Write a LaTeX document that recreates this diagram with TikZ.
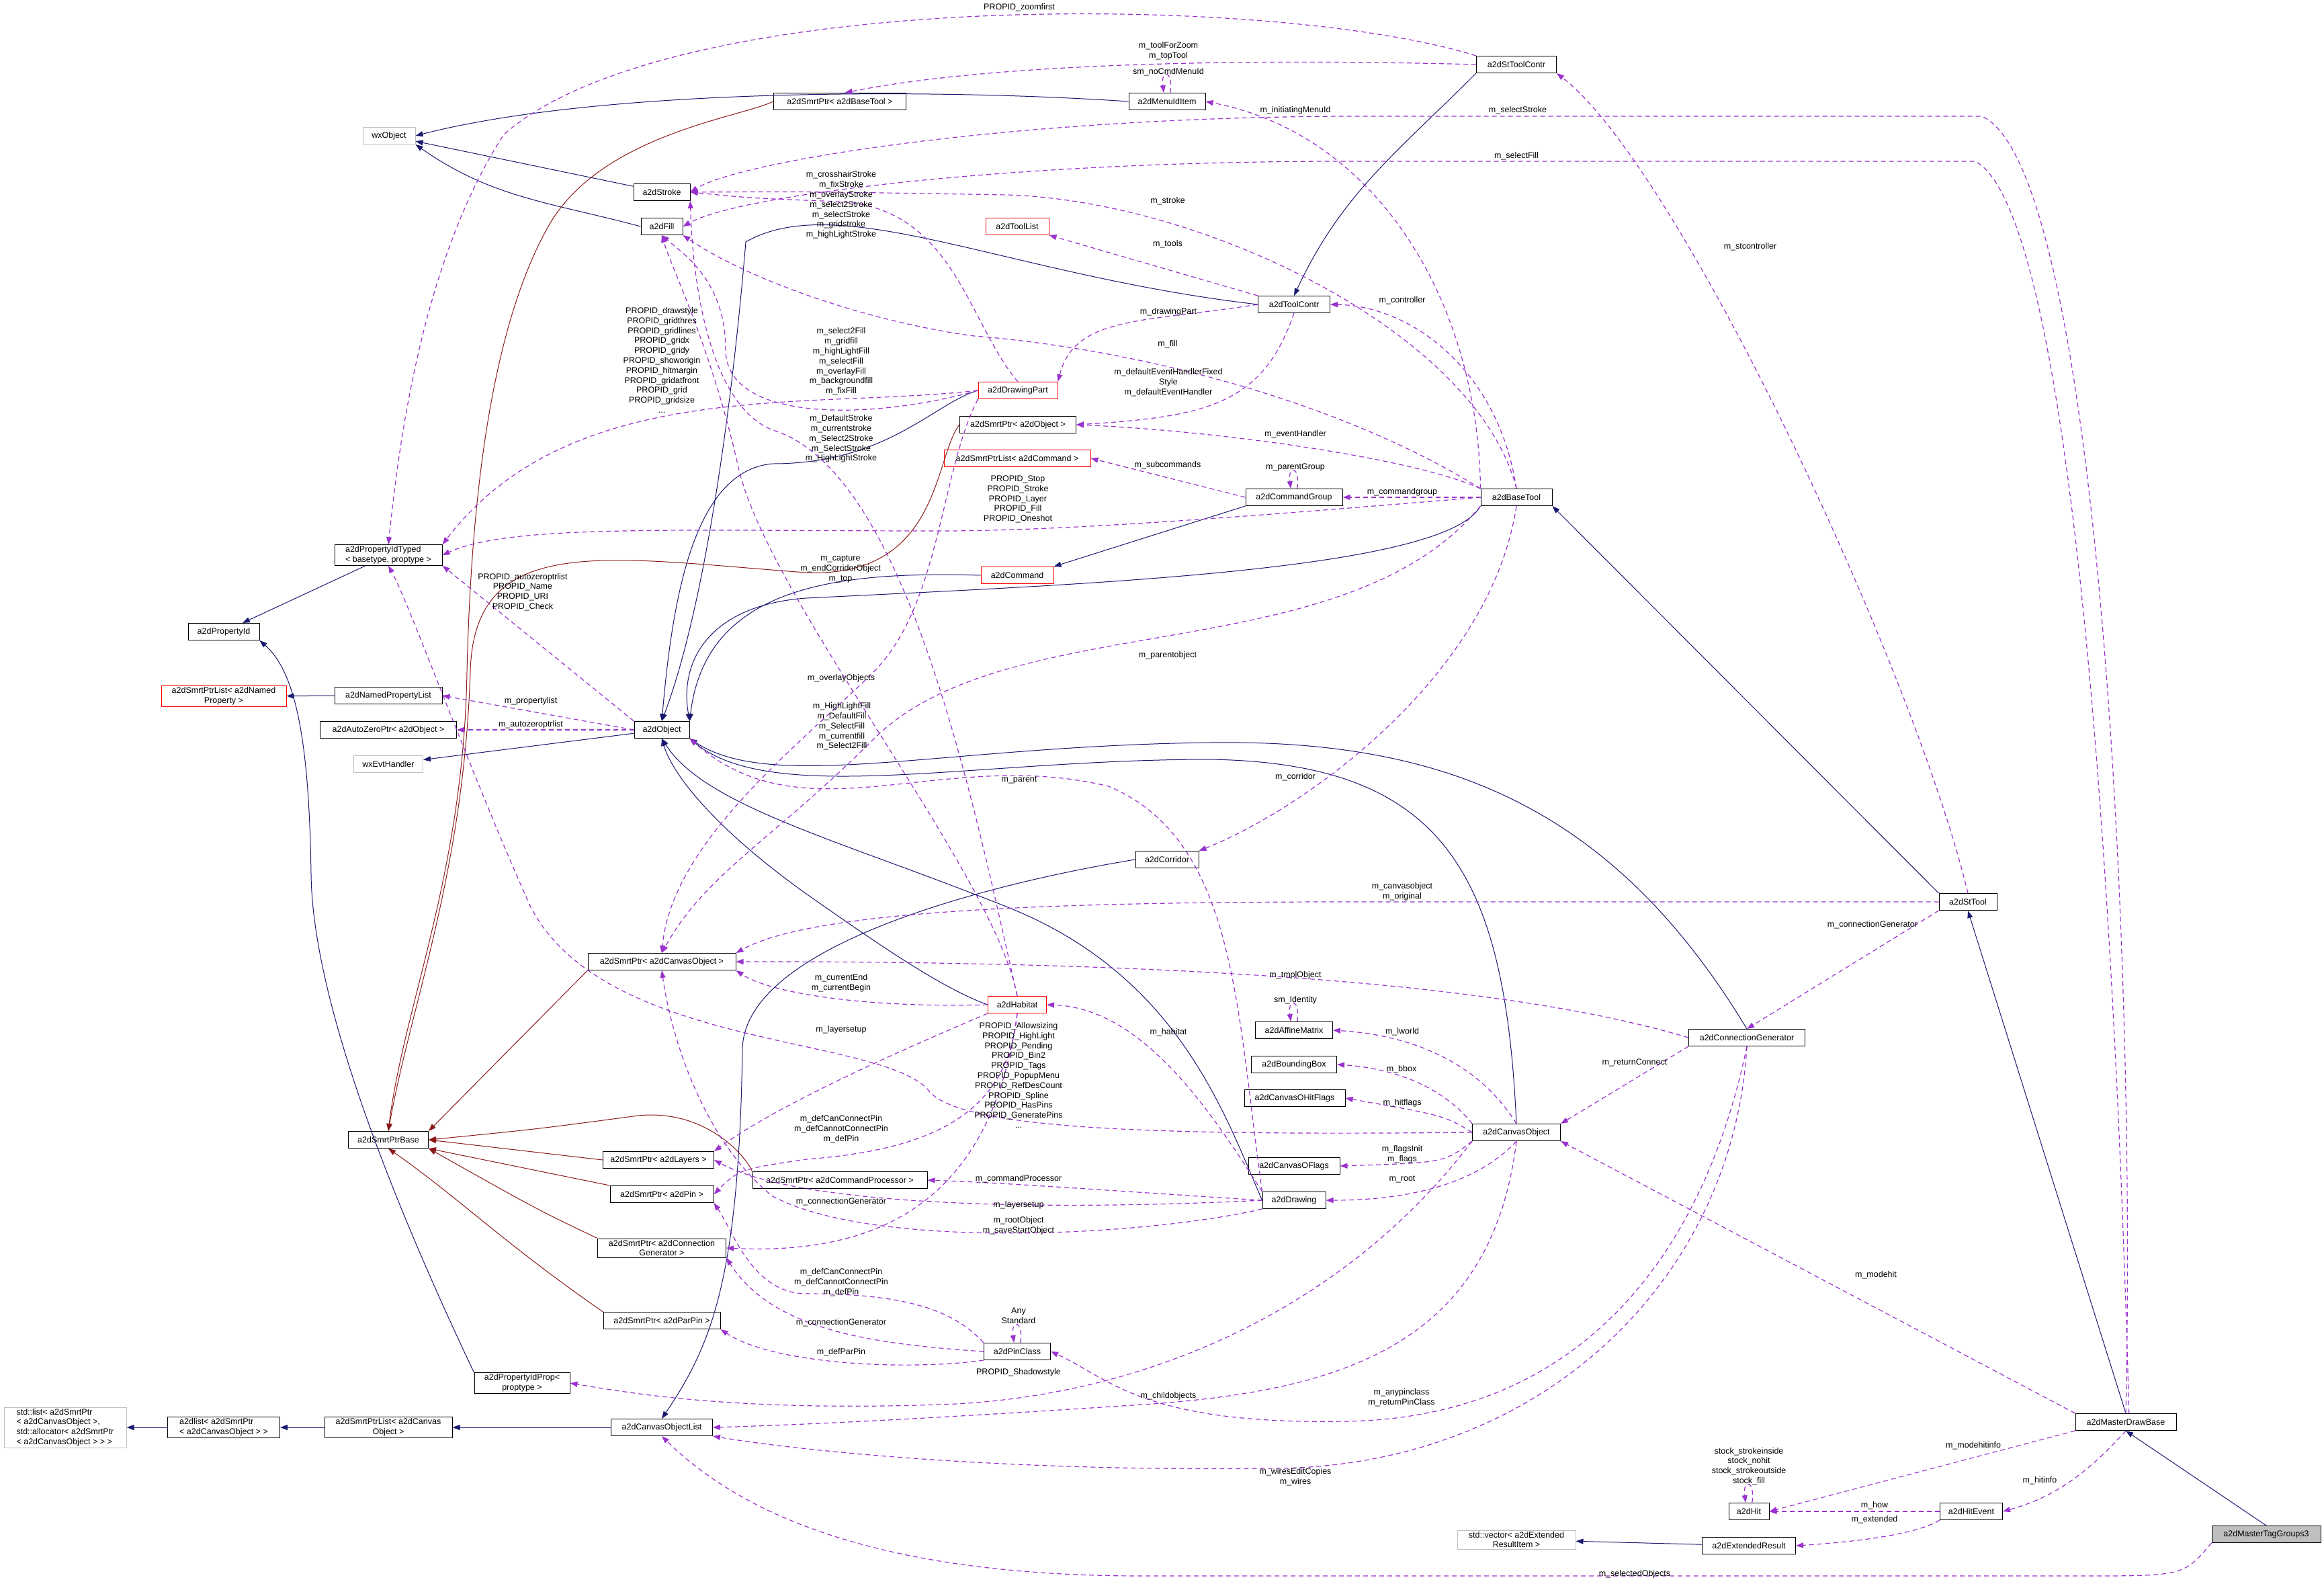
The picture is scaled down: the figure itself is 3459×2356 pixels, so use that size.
\documentclass[tikz,border=0pt]{standalone}
\usepackage{fontspec}
\setmainfont{Liberation Sans}
\usetikzlibrary{arrows.meta}
\definecolor{navy}{HTML}{191970}
\definecolor{darkred}{HTML}{8B1A1A}
\definecolor{orchid}{HTML}{9A32CD}
\definecolor{boxgray}{HTML}{BFBFBF}
\tikzset{
  cls/.style={draw=black, line width=1pt, inner sep=2pt, minimum height=25pt, align=center,
    font=\fontsize{12.5}{14.8}\selectfont},
  ext/.style={cls, draw=boxgray},
  redcls/.style={cls, draw=red},
  lbl/.style={inner sep=0pt, align=center, font=\fontsize{12.5}{14.8}\selectfont},
  isa/.style={navy, line width=1pt, -{Triangle[length=11pt,width=8pt]}},
  tmpl/.style={darkred, line width=1pt, -{Triangle[length=11pt,width=8pt]}},
  use/.style={orchid, line width=1.2pt, dash pattern=on 7pt off 5pt, -{Triangle[length=11pt,width=8pt]}}
}
\begin{document}
\begin{tikzpicture}[x=1pt, y=-1pt]
        \useasboundingbox (0, 0) rectangle (3459, 2356);
        % classes
        \node[ext, minimum width=78] (wxobj) at (579, 202) {wxObject};
        \node[cls, minimum width=197] (ptrbasetool) at (1250, 151) {a2dSmrtPtr< a2dBaseTool >};
        \node[cls, minimum width=114] (menuitem) at (1737, 151) {a2dMenuIdItem};
        \node[cls, minimum width=119] (sttoolcontr) at (2257, 96) {a2dStToolContr};
        \node[cls, minimum width=84] (stroke) at (985, 286) {a2dStroke};
        \node[cls, minimum width=62] (fill) at (985, 337) {a2dFill};
        \node[redcls, minimum width=94] (toollist) at (1514, 337) {a2dToolList};
        \node[cls, minimum width=107] (toolcontr) at (1926, 453) {a2dToolContr};
        \node[redcls, minimum width=118] (drawingpart) at (1515, 581) {a2dDrawingPart};
        \node[cls, minimum width=173] (ptrobject) at (1515, 632) {a2dSmrtPtr< a2dObject >};
        \node[redcls, minimum width=218] (ptrlistcmd) at (1514, 682) {a2dSmrtPtrList< a2dCommand >};
        \node[cls, minimum width=144] (cmdgroup) at (1926, 740) {a2dCommandGroup};
        \node[cls, minimum width=106] (basetool) at (2257, 740) {a2dBaseTool};
        \node[cls, minimum width=160, align=left] (proptyped) at (578, 826) {a2dPropertyIdTyped\\< basetype, proptype >};
        \node[cls, minimum width=106] (propid) at (333, 940) {a2dPropertyId};
        \node[redcls, minimum width=186] (ptrlistnamed) at (333, 1036) {a2dSmrtPtrList< a2dNamed\\Property >};
        \node[cls, minimum width=160] (namedproplist) at (578, 1035) {a2dNamedPropertyList};
        \node[cls, minimum width=203] (autozero) at (578, 1086) {a2dAutoZeroPtr< a2dObject >};
        \node[ext, minimum width=103] (evthandler) at (578, 1137) {wxEvtHandler};
        \node[cls, minimum width=82] (object) at (985, 1086) {a2dObject};
        \node[redcls, minimum width=108] (command) at (1514, 856) {a2dCommand};
        \node[cls, minimum width=220] (ptrcanvasobj) at (985, 1431) {a2dSmrtPtr< a2dCanvasObject >};
        \node[cls, minimum width=94] (corridor) at (1737, 1279) {a2dCorridor};
        \node[redcls, minimum width=87] (habitat) at (1514, 1495) {a2dHabitat};
        \node[cls, minimum width=115] (affine) at (1926, 1533) {a2dAffineMatrix};
        \node[cls, minimum width=86] (sttool) at (2929, 1342) {a2dStTool};
        \node[cls, minimum width=173] (conngen) at (2600, 1544) {a2dConnectionGenerator};
        \node[cls, minimum width=119] (ptrbase) at (578, 1696) {a2dSmrtPtrBase};
        \node[cls, minimum width=165] (ptrlayers) at (980, 1726) {a2dSmrtPtr< a2dLayers >};
        \node[cls, minimum width=154] (ptrpin) at (985, 1777) {a2dSmrtPtr< a2dPin >};
        \node[cls, minimum width=191] (ptrconngen) at (985, 1857) {a2dSmrtPtr< a2dConnection\\Generator >};
        \node[cls, minimum width=174] (ptrparpin) at (985, 1965) {a2dSmrtPtr< a2dParPin >};
        \node[cls, minimum width=142] (propidprop) at (777, 2058) {a2dPropertyIdProp<\\proptype >};
        \node[ext, minimum width=182, align=left] (stdlist) at (97, 2124) {std::list< a2dSmrtPtr\\< a2dCanvasObject >,\\std::allocator< a2dSmrtPtr\\< a2dCanvasObject > > >};
        \node[cls, minimum width=167, align=left] (a2dlist) at (333, 2124) {a2dlist< a2dSmrtPtr\\< a2dCanvasObject > >};
        \node[cls, minimum width=190] (ptrlistcanvas) at (578, 2124) {a2dSmrtPtrList< a2dCanvas\\Object >};
        \node[cls, minimum width=151] (canvasobjlist) at (985, 2124) {a2dCanvasObjectList};
        \node[cls, minimum width=260] (ptrcmdproc) at (1250, 1756) {a2dSmrtPtr< a2dCommandProcessor >};
        \node[cls, minimum width=127] (bbox) at (1926, 1584) {a2dBoundingBox};
        \node[cls, minimum width=150] (hitflags) at (1927, 1634) {a2dCanvasOHitFlags};
        \node[cls, minimum width=131] (canvasobj) at (2257, 1685) {a2dCanvasObject};
        \node[cls, minimum width=136] (oflags) at (1926, 1735) {a2dCanvasOFlags};
        \node[cls, minimum width=94] (drawing) at (1926, 1786) {a2dDrawing};
        \node[cls, minimum width=99] (pinclass) at (1514, 2011) {a2dPinClass};
        \node[ext, minimum width=176] (stdvector) at (2257, 2291) {std::vector< a2dExtended\\ResultItem >};
        \node[cls, minimum width=150] (masterdraw) at (3164, 2116) {a2dMasterDrawBase};
        \node[cls, minimum width=60] (hit) at (2603, 2249) {a2dHit};
        \node[cls, minimum width=93] (hitevent) at (2934, 2249) {a2dHitEvent};
        \node[cls, minimum width=139] (extresult) at (2603, 2300) {a2dExtendedResult};
        \node[cls, minimum width=162, fill=boxgray] (mastertag) at (3373, 2283) {a2dMasterTagGroups3};

        % inheritance
        \draw[isa] (menuitem.west) .. controls (1400, 132) and (900, 130) .. (wxobj.east);
        \draw[isa] (stroke) -- (wxobj);
        \draw[isa] (fill.west) to[out=165, in=-35] (wxobj.south east);
        \draw[isa] (sttoolcontr.south west) to[out=-135, in=65] (toolcontr.north);
        \draw[isa] (toolcontr.west) .. controls (1500, 410) and (1250, 280) .. (1110, 360) .. controls (1090, 600) and (1050, 900) .. (object.north);
        \draw[isa] (drawingpart.west) .. controls (1390, 600) and (1320, 690) .. (1150, 690) .. controls (1030, 700) and (1000, 900) .. (object.north);
        \draw[isa] (cmdgroup.south west) -- (command.north east);
        \draw[isa] (command.west) .. controls (1250, 850) and (1050, 870) .. (object.north east);
        \draw[isa] (basetool.south west) .. controls (2150, 850) and (1600, 870) .. (1200, 890) .. controls (1060, 900) and (1010, 980) .. (object.north east);
        \draw[isa] (sttool.north west) -- (basetool.south east);
        \draw[isa] (conngen.north) .. controls (2400, 1200) and (2150, 1100) .. (1800, 1105) .. controls (1400, 1110) and (1150, 1180) .. (object.south east);
        \draw[isa] (canvasobj.north) .. controls (2240, 1300) and (2150, 1135) .. (1800, 1130) .. controls (1450, 1130) and (1150, 1200) .. (object.south east);
        \draw[isa] (drawing.west) .. controls (1820, 1650) and (1750, 1450) .. (1500, 1350) .. controls (1250, 1250) and (1050, 1200) .. (object.south);
        \draw[isa] (habitat.west) .. controls (1400, 1470) and (1300, 1400) .. (1200, 1330) .. controls (1060, 1230) and (1000, 1150) .. (object.south);
        \draw[isa] (corridor.west) .. controls (1500, 1310) and (1110, 1400) .. (1105, 1560) .. controls (1100, 1900) and (1060, 2000) .. (canvasobjlist.north);
        \draw[isa] (object) -- (evthandler);
        \draw[isa] (namedproplist) -- (ptrlistnamed);
        \draw[isa] (proptyped) -- (propid);
        \draw[isa] (propidprop.north west) .. controls (600, 1820) and (465, 1500) .. (463, 1300) .. controls (460, 1100) and (440, 1000) .. (propid.south east);
        \draw[isa] (canvasobjlist) -- (ptrlistcanvas);
        \draw[isa] (ptrlistcanvas) -- (a2dlist);
        \draw[isa] (a2dlist) -- (stdlist);
        \draw[isa] (extresult) -- (stdvector);
        \draw[isa] (masterdraw.north) -- (sttool.south);
        \draw[isa] (mastertag.north) -- (masterdraw.south);

        % smart pointer base
        \draw[tmpl] (ptrbasetool.west) .. controls (1100, 175) and (900, 200) .. (820, 330) .. controls (720, 500) and (700, 800) .. (695, 1000) .. controls (690, 1300) and (600, 1500) .. (ptrbase.north);
        \draw[tmpl] (ptrobject.west) .. controls (1390, 680) and (1400, 860) .. (1200, 852) .. controls (900, 830) and (705, 790) .. (700, 1000) .. controls (690, 1300) and (610, 1500) .. (ptrbase.north);
        \draw[tmpl] (ptrcanvasobj.south west) -- (ptrbase.north east);
        \draw[tmpl] (ptrcmdproc.north west) .. controls (1110, 1720) and (1050, 1650) .. (950, 1660) .. controls (800, 1680) .. (ptrbase.east);
        \draw[tmpl] (ptrlayers.west) -- (ptrbase.east);
        \draw[tmpl] (ptrpin.north west) -- (ptrbase.south east);
        \draw[tmpl] (ptrconngen.north west) .. controls (800, 1800) .. (ptrbase.south east);
        \draw[tmpl] (ptrparpin.north west) .. controls (750, 1850) and (680, 1780) .. (ptrbase.south);

        % usage
        \draw[use] (sttoolcontr.north west) .. controls (1900, -10) and (1000, -20) .. (750, 200) .. controls (620, 400) and (590, 700) .. (proptyped.north);
        \draw[use] (sttoolcontr.west) .. controls (1900, 88) and (1500, 90) .. (ptrbasetool.60);
        \draw[use] (menuitem.70) .. controls +(5, -35) and +(-5, -35) .. (menuitem.110);
        \draw[use] (basetool.north west) .. controls (2200, 450) and (2050, 200) .. (menuitem.east);
        \draw[use] (masterdraw.north) .. controls (3180, 1400) and (3120, 250) .. (2950, 173) -- (2000, 173) .. controls (1500, 175) and (1100, 240) .. (stroke.east);
        \draw[use] (masterdraw.70) .. controls (3150, 1400) and (3090, 320) .. (2940, 240) -- (2000, 240) .. controls (1500, 240) and (1100, 290) .. (fill.east);
        \draw[use] (sttool.north) .. controls (2850, 1000) and (2500, 250) .. (sttoolcontr.south east);
        \draw[use] (drawingpart.north) .. controls (1440, 480) and (1420, 310) .. (1250, 300) .. controls (1120, 295) .. (stroke.east);
        \draw[use] (basetool.north) .. controls (2200, 500) and (1800, 300) .. (1500, 290) .. controls (1200, 285) .. (stroke.east);
        \draw[use] (toolcontr.north west) -- (toollist.south east);
        \draw[use] (basetool.north) .. controls (2230, 550) and (2100, 455) .. (toolcontr.east);
        \draw[use] (toolcontr.west) .. controls (1700, 480) and (1600, 470) .. (drawingpart.north east);
        \draw[use] (drawingpart.west) .. controls (1300, 625) and (1080, 630) .. (1080, 520) .. controls (1080, 420) and (1020, 380) .. (fill.south);
        \draw[use] (basetool.north west) .. controls (2000, 600) and (1700, 520) .. (1450, 500) .. controls (1300, 480) and (1120, 420) .. (fill.south east);
        \draw[use] (toolcontr.south) .. controls (1880, 600) and (1800, 620) .. (ptrobject.east);
        \draw[use] (drawingpart.west) .. controls (1200, 610) and (850, 560) .. (proptyped.north east);
        \draw[use] (habitat.north) .. controls (1450, 1200) and (1350, 700) .. (1150, 640) .. controls (1050, 600) and (1030, 400) .. (stroke.south east);
        \draw[use] (habitat.north) .. controls (1480, 1300) and (1150, 900) .. (1100, 700) .. controls (1060, 520) and (1000, 400) .. (fill.south);
        \draw[use] (basetool.north west) .. controls (2100, 680) and (1800, 640) .. (ptrobject.east);
        \draw[use] (cmdgroup.west) -- (ptrlistcmd.east);
        \draw[use] (cmdgroup.70) .. controls +(5, -35) and +(-5, -35) .. (cmdgroup.110);
        \draw[use] (basetool) -- (cmdgroup);
        \draw[use] (basetool.west) .. controls (1900, 765) and (1600, 790) .. (1400, 790) .. controls (1000, 790) and (760, 780) .. (proptyped.east);
        \draw[use] (basetool.south) .. controls (2220, 1000) and (1950, 1200) .. (corridor.north east);
        \draw[use] (basetool.south west) .. controls (2000, 1000) and (1500, 900) .. (1300, 1100) .. controls (1150, 1250) and (1050, 1300) .. (ptrcanvasobj.north);
        \draw[use] (drawingpart.south west) .. controls (1400, 700) and (1400, 900) .. (1300, 1000) .. controls (1200, 1100) and (1000, 1250) .. (ptrcanvasobj.north);
        \draw[use] (drawing.north west) .. controls (1840, 1500) and (1840, 1250) .. (1650, 1170) .. controls (1400, 1110) and (1200, 1250) .. (object.south east);
        \draw[use] (sttool.west) -- (2000, 1342) .. controls (1500, 1342) and (1200, 1360) .. (ptrcanvasobj.north east);
        \draw[use] (conngen.west) .. controls (2300, 1480) and (1900, 1430) .. (ptrcanvasobj.east);
        \draw[use] (habitat.west) .. controls (1300, 1500) and (1150, 1480) .. (ptrcanvasobj.south east);
        \draw[use] (affine.70) .. controls +(5, -35) and +(-5, -35) .. (affine.110);
        \draw[use] (habitat.south west) .. controls (1300, 1580) and (1150, 1650) .. (ptrlayers.north east);
        \draw[use] (canvasobj.west) .. controls (1700, 1690) and (1420, 1680) .. (1380, 1620) .. controls (1300, 1540) and (900, 1560) .. (790, 1350) .. controls (700, 1150) and (610, 900) .. (proptyped.south);
        \draw[use] (drawing.north west) .. controls (1800, 1650) and (1700, 1500) .. (habitat.east);
        \draw[use] (canvasobj.north) .. controls (2200, 1580) and (2100, 1540) .. (affine.east);
        \draw[use] (sttool.south west) -- (conngen.north);
        \draw[use] (conngen.south west) -- (canvasobj.north east);
        \draw[use] (canvasobj.north west) .. controls (2150, 1620) and (2080, 1590) .. (bbox.east);
        \draw[use] (canvasobj.west) .. controls (2150, 1660) .. (hitflags.east);
        \draw[use] (canvasobj.south west) .. controls (2150, 1730) .. (oflags.east);
        \draw[use] (canvasobj.south) .. controls (2200, 1760) and (2100, 1786) .. (drawing.east);
        \draw[use] (drawing.west) .. controls (1700, 1775) and (1500, 1760) .. (ptrcmdproc.east);
        \draw[use] (drawing.west) .. controls (1600, 1800) and (1200, 1800) .. (ptrlayers.east);
        \draw[use] (drawing.south west) .. controls (1700, 1840) and (1300, 1860) .. (1150, 1780) .. controls (1050, 1700) and (1000, 1550) .. (ptrcanvasobj.south);
        \draw[use] (habitat.south) .. controls (1500, 1650) and (1400, 1710) .. (1200, 1725) .. controls (1100, 1740) .. (ptrpin.east);
        \draw[use] (habitat.south) .. controls (1480, 1750) and (1350, 1870) .. (ptrconngen.east);
        \draw[use] (pinclass.north west) .. controls (1420, 1950) and (1350, 1925) .. (1200, 1925) .. controls (1120, 1925) and (1090, 1830) .. (ptrpin.south east);
        \draw[use] (pinclass.west) .. controls (1300, 2000) and (1150, 1980) .. (ptrconngen.south east);
        \draw[use] (pinclass.south west) .. controls (1350, 2040) and (1150, 2030) .. (ptrparpin.south east);
        \draw[use] (pinclass.70) .. controls +(5, -35) and +(-5, -35) .. (pinclass.110);
        \draw[use] (canvasobj.south west) .. controls (2000, 1950) and (1700, 2080) .. (1400, 2090) .. controls (1100, 2100) and (950, 2075) .. (propidprop.east);
        \draw[use] (canvasobj.south) .. controls (2220, 2000) and (2000, 2070) .. (1700, 2090) .. controls (1400, 2110) and (1200, 2120) .. (canvasobjlist.east);
        \draw[use] (conngen.south) .. controls (2550, 1800) and (2400, 2110) .. (2000, 2115) .. controls (1700, 2120) and (1650, 2050) .. (pinclass.east);
        \draw[use] (conngen.south) .. controls (2580, 1900) and (2300, 2180) .. (1900, 2185) .. controls (1500, 2190) and (1200, 2160) .. (canvasobjlist.south east);
        \draw[use] (masterdraw.north west) -- (canvasobj.south east);
        \draw[use] (masterdraw.south west) -- (hit.east);
        \draw[use] (hit.70) .. controls +(5, -35) and +(-5, -35) .. (hit.110);
        \draw[use] (masterdraw.south) .. controls (3100, 2200) and (3050, 2230) .. (hitevent.east);
        \draw[use] (hitevent) -- (hit);
        \draw[use] (hitevent.south west) .. controls (2850, 2285) and (2750, 2295) .. (extresult.east);
        \draw[use] (mastertag.south west) .. controls (3250, 2345) .. (3100, 2345) -- (1700, 2345) .. controls (1300, 2345) and (1100, 2250) .. (canvasobjlist.south);
        \draw[use] (object.north west) -- (proptyped.south east);
        \draw[use] (object.west) -- (namedproplist.east);
        \draw[use] (object) -- (autozero);

        % connector labels
        \node[lbl] (lzoom) at (1517, 11) {PROPID\_zoomfirst};
        \node[lbl] (ltop) at (1739, 76) {m\_toolForZoom\\m\_topTool};
        \node[lbl] (lnocmd) at (1739, 107) {sm\_noCmdMenuId};
        \node[lbl] (linit) at (1928, 164) {m\_initiatingMenuId};
        \node[lbl] (lselstroke) at (2259, 164) {m\_selectStroke};
        \node[lbl] (lselfill) at (2257, 232) {m\_selectFill};
        \node[lbl] (lcross) at (1252, 305) {m\_crosshairStroke\\m\_fixStroke\\m\_overlayStroke\\m\_select2Stroke\\m\_selectStroke\\m\_gridstroke\\m\_highLightStroke};
        \node[lbl] (lstctrl) at (2605, 367) {m\_stcontroller};
        \node[lbl] (lstroke) at (1738, 299) {m\_stroke};
        \node[lbl] (ltools) at (1738, 363) {m\_tools};
        \node[lbl] (lctrl) at (2087, 447) {m\_controller};
        \node[lbl] (ldpart) at (1739, 464) {m\_drawingPart};
        \node[lbl] (lfills) at (1252, 538) {m\_select2Fill\\m\_gridfill\\m\_highLightFill\\m\_selectFill\\m\_overlayFill\\m\_backgroundfill\\m\_fixFill};
        \node[lbl] (ldraw) at (985, 536) {PROPID\_drawstyle\\PROPID\_gridthres\\PROPID\_gridlines\\PROPID\_gridx\\PROPID\_gridy\\PROPID\_showorigin\\PROPID\_hitmargin\\PROPID\_gridatfront\\PROPID\_grid\\PROPID\_gridsize\\...};
        \node[lbl] (lfill) at (1738, 512) {m\_fill};
        \node[lbl] (ldefev) at (1739, 569) {m\_defaultEventHandlerFixed\\Style\\m\_defaultEventHandler};
        \node[lbl] (ldefstroke) at (1252, 653) {m\_DefaultStroke\\m\_currentstroke\\m\_Select2Stroke\\m\_SelectStroke\\m\_HighLightStroke};
        \node[lbl] (levent) at (1928, 646) {m\_eventHandler};
        \node[lbl] (lsubcmd) at (1738, 692) {m\_subcommands};
        \node[lbl] (lpgroup) at (1928, 695) {m\_parentGroup};
        \node[lbl] (lcmdgroup) at (2087, 732) {m\_commandgroup};
        \node[lbl] (lstop) at (1515, 743) {PROPID\_Stop\\PROPID\_Stroke\\PROPID\_Layer\\PROPID\_Fill\\PROPID\_Oneshot};
        \node[lbl] (lcapture) at (1251, 847) {m\_capture\\m\_endCorridorObject\\m\_top};
        \node[lbl] (lautoprop) at (778, 881) {PROPID\_autozeroptrlist\\PROPID\_Name\\PROPID\_URI\\PROPID\_Check};
        \node[lbl] (lproplist) at (790, 1043) {m\_propertylist};
        \node[lbl] (lautozero) at (790, 1078) {m\_autozeroptrlist};
        \node[lbl] (lparentobj) at (1738, 975) {m\_parentobject};
        \node[lbl] (loverlay) at (1252, 1009) {m\_overlayObjects};
        \node[lbl] (lhlfill) at (1253, 1081) {m\_HighLightFill\\m\_DefaultFill\\m\_SelectFill\\m\_currentfill\\m\_Select2Fill};
        \node[lbl] (lparent) at (1517, 1161) {m\_parent};
        \node[lbl] (lcorridor) at (1928, 1156) {m\_corridor};
        \node[lbl] (lcanvasobj) at (2087, 1327) {m\_canvasobject\\m\_original};
        \node[lbl] (lconngen) at (2787, 1376) {m\_connectionGenerator};
        \node[lbl] (ltmpl) at (1928, 1451) {m\_tmplObject};
        \node[lbl] (lcurrent) at (1252, 1463) {m\_currentEnd\\m\_currentBegin};
        \node[lbl] (lident) at (1928, 1488) {sm\_Identity};
        \node[lbl] (llayers) at (1252, 1532) {m\_layersetup};
        \node[lbl] (lallow) at (1516, 1600) {PROPID\_Allowsizing\\PROPID\_HighLight\\PROPID\_Pending\\PROPID\_Bin2\\PROPID\_Tags\\PROPID\_PopupMenu\\PROPID\_RefDesCount\\PROPID\_Spline\\PROPID\_HasPins\\PROPID\_GeneratePins\\...};
        \node[lbl] (lhabitat) at (1739, 1536) {m\_habitat};
        \node[lbl] (llworld) at (2087, 1535) {m\_lworld};
        \node[lbl] (lreturn) at (2433, 1581) {m\_returnConnect};
        \node[lbl] (lbbox) at (2086, 1591) {m\_bbox};
        \node[lbl] (lhitflags) at (2087, 1641) {m\_hitflags};
        \node[lbl] (lflags) at (2087, 1718) {m\_flagsInit\\m\_flags};
        \node[lbl] (lroot) at (2087, 1755) {m\_root};
        \node[lbl] (ldefpin) at (1252, 1680) {m\_defCanConnectPin\\m\_defCannotConnectPin\\m\_defPin};
        \node[lbl] (lcmdproc) at (1516, 1754) {m\_commandProcessor};
        \node[lbl] (lconngenA) at (1252, 1788) {m\_connectionGenerator};
        \node[lbl] (llayersB) at (1516, 1793) {m\_layersetup};
        \node[lbl] (lrootobj) at (1516, 1824) {m\_rootObject\\m\_saveStartObject};
        \node[lbl] (lmodehit) at (2792, 1897) {m\_modehit};
        \node[lbl] (ldefpinB) at (1252, 1908) {m\_defCanConnectPin\\m\_defCannotConnectPin\\m\_defPin};
        \node[lbl] (lany) at (1516, 1958) {Any\\Standard};
        \node[lbl] (lconngenB) at (1252, 1968) {m\_connectionGenerator};
        \node[lbl] (lparpin) at (1252, 2012) {m\_defParPin};
        \node[lbl] (lshadow) at (1516, 2042) {PROPID\_Shadowstyle};
        \node[lbl] (lchild) at (1739, 2077) {m\_childobjects};
        \node[lbl] (lanypin) at (2086, 2080) {m\_anypinclass\\m\_returnPinClass};
        \node[lbl] (lmodeinfo) at (2937, 2151) {m\_modehitinfo};
        \node[lbl] (lstock) at (2603, 2182) {stock\_strokeinside\\stock\_nohit\\stock\_strokeoutside\\stock\_fill};
        \node[lbl] (lwires) at (1928, 2198) {m\_wiresEditCopies\\m\_wires};
        \node[lbl] (lhitinfo) at (3036, 2203) {m\_hitinfo};
        \node[lbl] (lhow) at (2790, 2240) {m\_how};
        \node[lbl] (lext) at (2790, 2261) {m\_extended};
        \node[lbl] (lselobj) at (2433, 2342) {m\_selectedObjects};
    \end{tikzpicture}
\end{document}
